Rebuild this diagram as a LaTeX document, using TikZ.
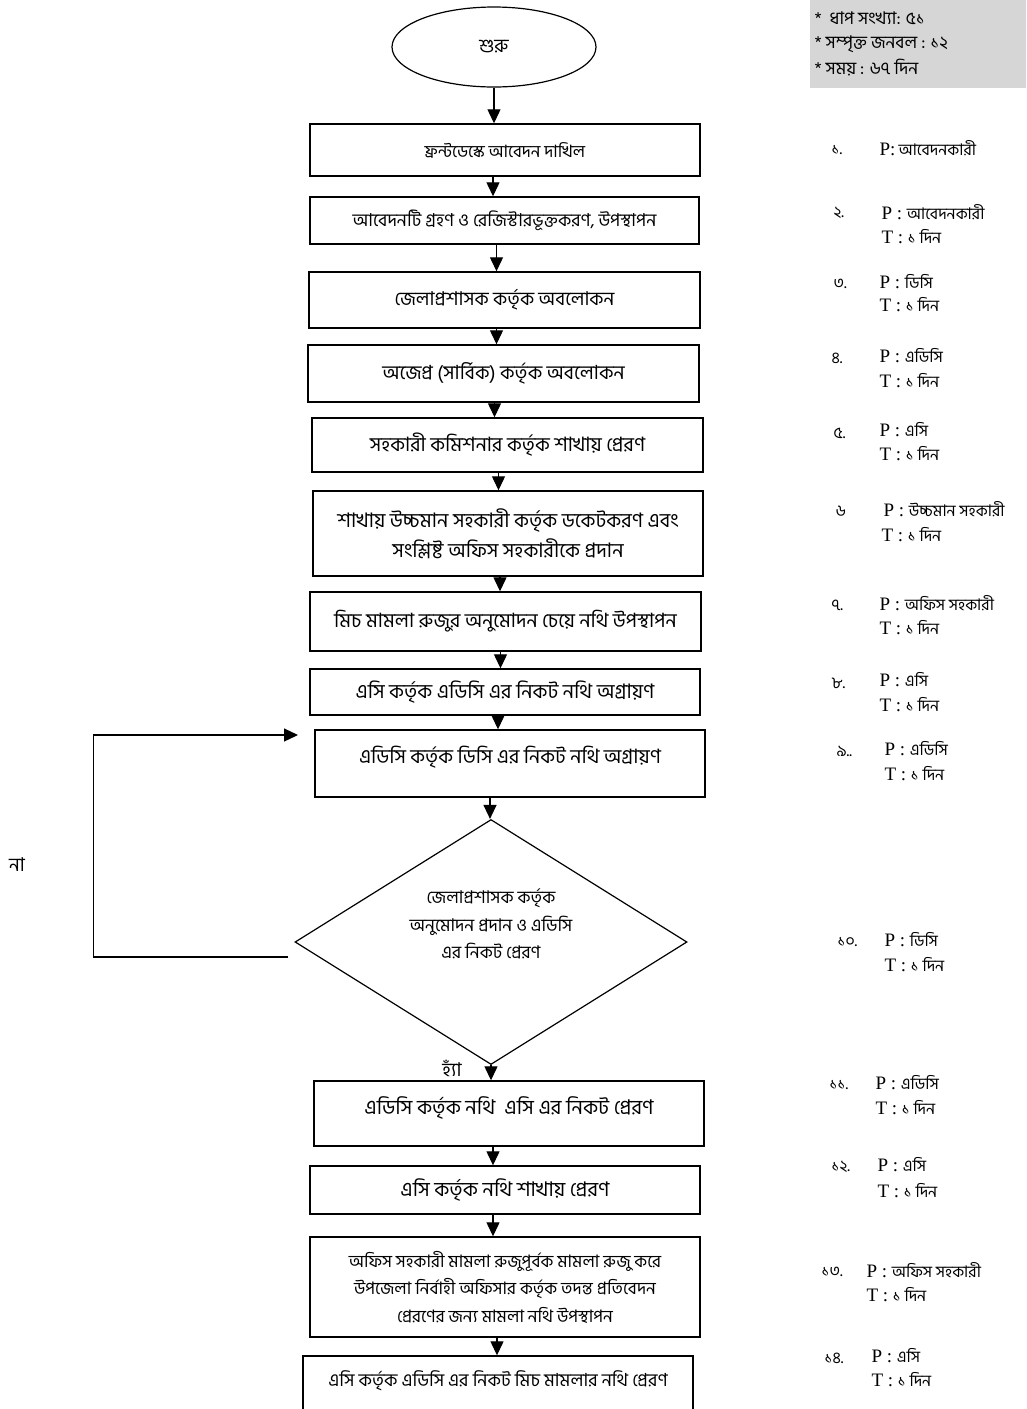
\documentclass[tikz,border=0pt]{standalone}
\usepackage{fontspec}
\setmainfont{Liberation Serif}
\newfontfamily\bn[Script=Bengali]{Hind Siliguri}
\usetikzlibrary{arrows.meta,shapes.geometric}
\newcommand{\fs}[2]{\fontsize{#1}{#2}\selectfont}
\newcommand{\bs}{\bn\fs{16}{18}}
\begin{document}
\begin{tikzpicture}[x=1pt,y=-1pt,
  stepbox/.style={draw, line width=1.4pt, rectangle, inner sep=0pt, align=center},
  arr/.style={line width=1.2pt, -{Triangle[width=13pt,length=14pt]}},
  num/.style={anchor=west, font=\bn\fs{16}{18}},
  pt/.style={anchor=west, font=\fs{19}{22}},
]
\useasboundingbox (0,0) rectangle (1026,1409);
\clip (0,0) rectangle (1026,1409);
\fill[white] (0,0) rectangle (1026,1409);

% header
\fill[gray!32] (810,0) rectangle (1026,88);
\node[anchor=west, font=\bn\fs{17.5}{19}] (h1) at (811,18) {*\ \ ধাপ সংখ্যা: ৫১};
\node[anchor=west, font=\bn\fs{17.5}{19}] (h2) at (811,44) {* সম্পৃক্ত জনবল : ১২};
\node[anchor=west, font=\bn\fs{17.5}{19}] (h3) at (811,68) {* সময় : ৬৭ দিন};

% start
\node[draw, ellipse, line width=1.2pt, minimum width=204pt, minimum height=80pt, inner sep=0pt, font=\bn\fs{19}{21}] (start) at (494,47) {শুরু\\[6pt]};

% boxes
\node[stepbox, minimum width=390pt, minimum height=52pt, font=\bn\fs{17}{19}] (b1) at (505,150) {ফ্রন্টডেস্কে আবেদন দাখিল};
\node[stepbox, minimum width=389pt, minimum height=47pt, font=\bn\fs{17.8}{19}] (b2) at (504.5,220.5) {আবেদনটি গ্রহণ ও রেজিস্টারভূক্তকরণ, উপস্থাপন};
\node[stepbox, minimum width=391pt, minimum height=56pt, font=\bn\fs{19}{21}] (b3) at (504.5,300) {জেলাপ্রশাসক কর্তৃক অবলোকন};
\node[stepbox, minimum width=391pt, minimum height=57pt, font=\bn\fs{19.5}{21}] (b4) at (503.5,373.5) {অজেপ্র (সার্বিক) কর্তৃক অবলোকন};
\node[stepbox, minimum width=391pt, minimum height=54pt, font=\bn\fs{19.8}{21}] (b5) at (507.5,445) {সহকারী কমিশনার কর্তৃক শাখায় প্রেরণ};
\node[stepbox, minimum width=390pt, minimum height=85pt, font=\bn\fs{20}{30}] (b6) at (508,533.5) {শাখায় উচ্চমান সহকারী কর্তৃক ডকেটকরণ এবং\\সংশ্লিষ্ট অফিস সহকারীকে প্রদান};
\node[stepbox, minimum width=391pt, minimum height=59pt, font=\bn\fs{19.7}{21}] (b7) at (505.5,621.5) {মিচ মামলা রুজুর অনুমোদন চেয়ে নথি উপস্থাপন};
\node[stepbox, minimum width=390pt, minimum height=46pt, font=\bn\fs{20}{21}] (b8) at (505,692) {এসি কর্তৃক এডিসি এর নিকট নথি অগ্রায়ণ};
\node[stepbox, minimum width=390pt, minimum height=67pt, font=\bn\fs{19.8}{21}, text depth=18pt] (b9) at (510,763.5) {এডিসি কর্তৃক ডিসি এর নিকট নথি অগ্রায়ণ};

% decision
\node[draw, diamond, line width=1.2pt, minimum width=392pt, minimum height=245pt, inner sep=0pt] (d) at (491,942) {};
\node[align=center, font=\bn\fs{17.5}{27.5}] (dt) at (491,924) {জেলাপ্রশাসক কর্তৃক\\অনুমোদন প্রদান ও এডিসি\\এর নিকট প্রেরণ};

\node[stepbox, minimum width=390pt, minimum height=65pt, font=\bn\fs{20.3}{21}, text depth=16pt] (b10) at (509,1113.5) {এডিসি কর্তৃক নথি\ \ এসি এর নিকট প্রেরণ};
\node[stepbox, minimum width=390pt, minimum height=48pt, font=\bn\fs{20.2}{21}] (b11) at (505,1190) {এসি কর্তৃক নথি শাখায় প্রেরণ};
\node[stepbox, minimum width=390pt, minimum height=100pt, font=\bn\fs{17.2}{27.5}] (b12) at (505,1287) {অফিস সহকারী মামলা রুজুপূর্বক মামলা রুজু করে\\উপজেলা নির্বাহী অফিসার কর্তৃক তদন্ত প্রতিবেদন\\প্রেরণের জন্য মামলা নথি উপস্থাপন};
\node[stepbox, minimum width=390pt, minimum height=90pt, font=\bn\fs{18}{19}, text depth=44pt] (b13) at (498,1401) {এসি কর্তৃক এডিসি এর নিকট মিচ মামলার নথি প্রেরণ};

% flow arrows
\draw[arr] (start.south) -- (start.south |- b1.north);
\draw[arr] ([xshift=-12pt]b1.south) -- ([xshift=-12pt]b1.south |- b2.north);
\draw[arr] ([xshift=-8pt]b2.south) -- ([xshift=-8pt]b2.south |- b3.north);
\draw[arr] ([xshift=-8pt]b3.south) -- ([xshift=-8pt]b3.south |- b4.north);
\draw[arr] ([xshift=-9pt]b4.south) -- ([xshift=-9pt]b4.south |- b5.north);
\draw[arr] ([xshift=-9pt]b5.south) -- ([xshift=-9pt]b5.south |- b6.north);
\draw[arr] ([xshift=-8pt]b6.south) -- ([xshift=-8pt]b6.south |- b7.north);
\draw[arr] ([xshift=-5pt]b7.south) -- ([xshift=-5pt]b7.south |- b8.north);
\draw[arr] ([xshift=-7pt]b8.south) -- ([xshift=-7pt]b8.south |- b9.north);
\draw[arr] ([xshift=-20pt]b9.south) -- ([xshift=-20pt]b9.south |- d.north);
\draw[arr] (d.south) -- (d.south |- b10.north);
\draw[arr] ([xshift=-16pt]b10.south) -- ([xshift=-16pt]b10.south |- b11.north);
\draw[arr] ([xshift=-12pt]b11.south) -- ([xshift=-12pt]b11.south |- b12.north);
\draw[arr] ([xshift=-8pt]b12.south) -- ([xshift=-8pt]b12.south |- b13.north);

% loop back
\coordinate (loopend) at (298,735);
\draw[arr] ([xshift=-6pt,yshift=-15pt]d.west) -- ++(-195,0) |- (loopend);
\node[font=\bn\fs{19}{21}] (no) at (17,865) {না};
\node[font=\bn\fs{19}{21}] (yes) at (452,1068) {হ্যাঁ};

% right column
\node[num] (n1) at (828,150) {১.};  \node[pt] (p1) at (876,148) {P:\,{\bs আবেদনকারী}};
\node[num] (n2) at (830,213) {২.};  \node[pt] (p2) at (878,212) {P : {\bs আবেদনকারী}};
\node[pt] (t2) at (878,237) {T : {\bs ১ দিন}};
\node[num] (n3) at (830,284) {৩.};  \node[pt] (p3) at (876,282) {P : {\bs ডিসি}};
\node[pt] (t3) at (876,305) {T : {\bs ১ দিন}};
\node[num] (n4) at (828,358) {৪.};  \node[pt] (p4) at (876,356) {P : {\bs এডিসি}};
\node[pt] (t4) at (876,381) {T : {\bs ১ দিন}};
\node[num] (n5) at (830,433) {৫.};  \node[pt] (p5) at (876,430) {P : {\bs এসি}};
\node[pt] (t5) at (876,454) {T : {\bs ১ দিন}};
\node[num] (n6) at (832,511) {৬};   \node[pt] (p6) at (880,509) {P : {\bs উচ্চমান সহকারী}};
\node[pt] (t6) at (878,535) {T : {\bs ১ দিন}};
\node[num] (n7) at (828,605) {৭.};  \node[pt] (p7) at (876,603) {P : {\bs অফিস সহকারী}};
\node[pt] (t7) at (876,628) {T : {\bs ১ দিন}};
\node[num] (n8) at (828,683) {৮.};  \node[pt] (p8) at (876,680) {P : {\bs এসি}};
\node[pt] (t8) at (876,705) {T : {\bs ১ দিন}};
\node[num] (n9) at (833,751) {৯..}; \node[pt] (p9) at (881,749) {P : {\bs এডিসি}};
\node[pt] (t9) at (881,774) {T : {\bs ১ দিন}};
\node[num] (n10) at (834,942) {১০.}; \node[pt] (p10) at (881,940) {P : {\bs ডিসি}};
\node[pt] (t10) at (881,965) {T : {\bs ১ দিন}};
\node[num] (n11) at (826,1085) {১১.}; \node[pt] (p11) at (872,1083) {P : {\bs এডিসি}};
\node[pt] (t11) at (872,1108) {T : {\bs ১ দিন}};
\node[num] (n12) at (828,1167) {১২.}; \node[pt] (p12) at (874,1165) {P : {\bs এসি}};
\node[pt] (t12) at (874,1191) {T : {\bs ১ দিন}};
\node[num] (n13) at (818,1272) {১৩.}; \node[pt] (p13) at (863,1270) {P : {\bs অফিস সহকারী}};
\node[pt] (t13) at (863,1295) {T : {\bs ১ দিন}};
\node[num] (n14) at (821,1358) {১৪.}; \node[pt] (p14) at (868,1356) {P : {\bs এসি}};
\node[pt] (t14) at (868,1380) {T : {\bs ১ দিন}};
\end{tikzpicture}
\end{document}
